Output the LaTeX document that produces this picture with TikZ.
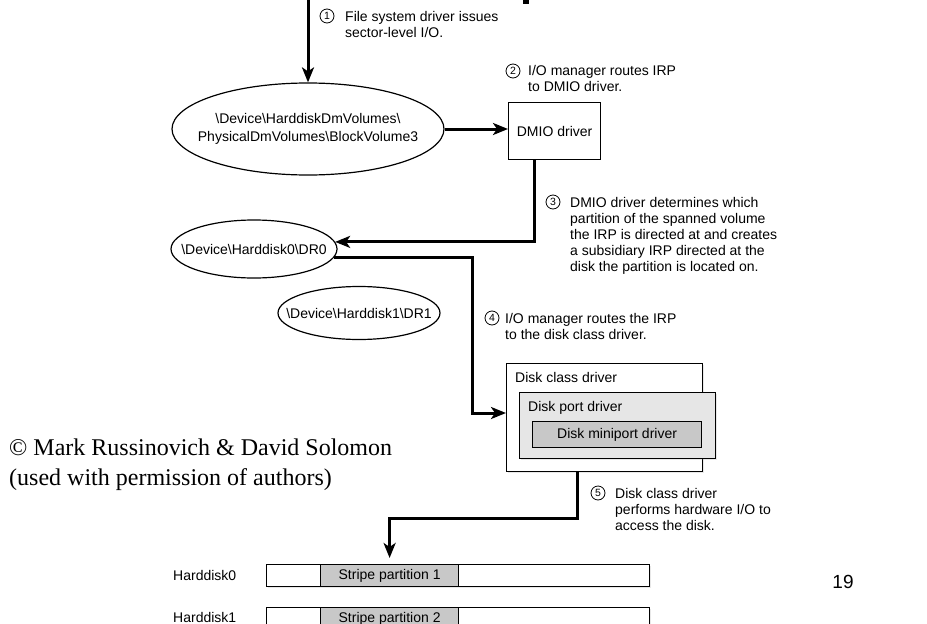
\documentclass[tikz,border=0pt]{standalone}
\usepackage{fontspec}
\setmainfont{Liberation Sans}
\newfontfamily\creditfont{Liberation Serif}
\usetikzlibrary{arrows.meta,shapes.geometric,shadows}
\definecolor{portgray}{RGB}{230,230,230}
\definecolor{minigray}{RGB}{200,200,200}
\definecolor{stripegray}{RGB}{200,200,200}
\begin{document}
\begin{tikzpicture}[x=1pt,y=-1pt,
  txt/.style={font=\fontsize{14}{16}\selectfont},
  note/.style={txt, anchor=north west, inner sep=0pt, align=left},
  num/.style={circle, draw, line width=0.8pt, minimum size=14pt, inner sep=0pt,
              font=\fontsize{10.5}{10.5}\selectfont},
  flow/.style={line width=3pt, -{Stealth[length=15pt,width=12pt,inset=4pt]}},
  devell/.style={ellipse, draw, line width=1.2pt, inner sep=0pt},
  box/.style={rectangle, draw, line width=1.2pt, inner sep=0pt, anchor=north west, txt},
  shade/.style={drop shadow={opacity=0.18, shadow xshift=1.5pt, shadow yshift=-1.5pt}},
]
\useasboundingbox (0,0) rectangle (927,624);
\clip (0,0) rectangle (927,624);

% descender of the cut-off heading
\fill (523,0) rectangle (529,4);

% device objects
\node[devell, minimum width=272pt, minimum height=92pt] (vol) at (308,129) {};
\node[txt, align=center, inner sep=0pt, font=\fontsize{14}{17.5}\selectfont] (volt) at (vol)
  {\textbackslash Device\textbackslash HarddiskDmVolumes\textbackslash\\
   PhysicalDmVolumes\textbackslash BlockVolume3};
\node[devell, minimum width=166pt, minimum height=58pt] (dr0) at (254,249) {};
\node[txt, inner sep=0pt] (dr0t) at (dr0) {\textbackslash Device\textbackslash Harddisk0\textbackslash DR0};
\node[devell, minimum width=162pt, minimum height=53pt] (dr1) at (359,313) {};
\node[txt, inner sep=0pt] (dr1t) at (dr1) {\textbackslash Device\textbackslash Harddisk1\textbackslash DR1};

% drivers
\node[box, minimum width=92pt, minimum height=57pt] (dmio) at (508,102) {DMIO driver};
\node[box, shade, fill=white, minimum width=196pt, minimum height=108pt] (cls) at (506,363) {};
\node[note] (clst) at (515,372) {Disk class driver};
\node[box, shade, fill=portgray, minimum width=196pt, minimum height=66pt] (port) at (519,392) {};
\node[note] (portt) at (528,401) {Disk port driver};
\node[box, fill=minigray, minimum width=169pt, minimum height=26pt] (mini) at (532,421) {Disk miniport driver};

% disks
\node[box, shade, fill=white, minimum width=383pt, minimum height=22pt] (hd0) at (266,564) {};
\node[box, fill=stripegray, minimum width=138pt, minimum height=22pt] (sp1) at (320,564) {Stripe partition 1};
\node[box, shade, fill=white, minimum width=383pt, minimum height=22pt] (hd1) at (266,607) {};
\node[box, fill=stripegray, minimum width=138pt, minimum height=22pt] (sp2) at (320,607) {Stripe partition 2};
\node[note] (hd0l) at (173,570) {Harddisk0};
\node[note] (hd1l) at (173,612) {Harddisk1};

% step annotations
\node[num] (n1) at (327,16) {1};
\node[note] (s1) at (345,11) {File system driver issues\\sector-level I/O.};
\node[num] (n2) at (513,71) {2};
\node[note] (s2) at (528,65) {I/O manager routes IRP\\to DMIO driver.};
\node[num] (n3) at (553,202) {3};
\node[note] (s3) at (570,197) {DMIO driver determines which\\partition of the spanned volume\\the IRP is directed at and creates\\a subsidiary IRP directed at the\\disk the partition is located on.};
\node[num] (n4) at (492,318) {4};
\node[note] (s4) at (505,313) {I/O manager routes the IRP\\to the disk class driver.};
\node[num] (n5) at (598,493) {5};
\node[note] (s5) at (615,488) {Disk class driver\\performs hardware I/O to\\access the disk.};

% request path
\coordinate (src) at (308,0);
\coordinate (k4) at (472,413);
\coordinate (k5) at (577,518);
\draw[flow] (src) -- (vol.north);
\draw[flow] (vol.east) -- (vol.east -| dmio.west);
\draw[flow] ([xshift=-20pt]dmio.south) |- (dr0.5);
\draw[flow] (dr0.-6) -| (k4) -- (k4 -| cls.west);
\draw[flow, shorten >=6pt] (cls.south -| k5) -- (k5) -| (sp1.north);

% credit and page number
\node[anchor=north west, inner sep=0pt, align=left,
      font=\creditfont\fontsize{24}{30}\selectfont] (cred) at (9,439)
  {© Mark Russinovich \& David Solomon\\(used with permission of authors)};
\node[font=\fontsize{19}{19}\selectfont, inner sep=0pt] (pg) at (843,582) {19};
\end{tikzpicture}
\end{document}
